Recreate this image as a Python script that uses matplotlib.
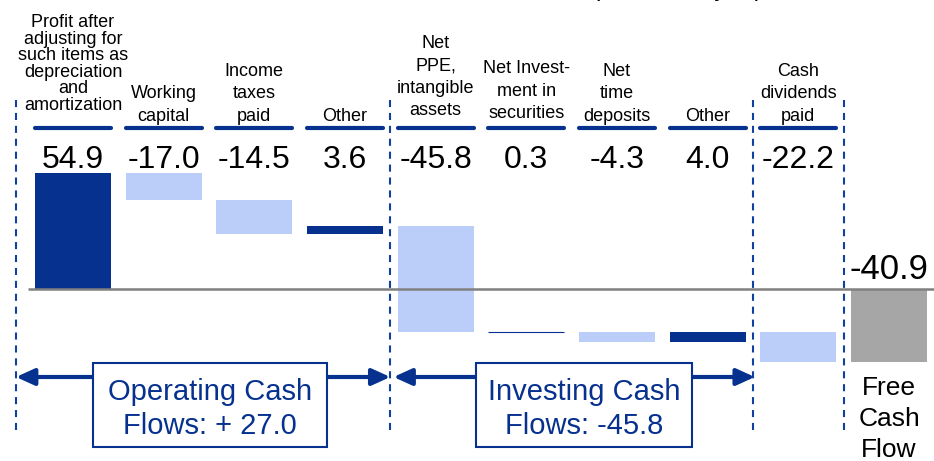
import matplotlib
matplotlib.use("Agg")
import matplotlib.pyplot as plt
from matplotlib.patches import Rectangle

plt.rcParams["font.family"] = ["Liberation Sans", "DejaVu Sans"]

# Cash flow bridge (billions of yen)
categories = [
    "Profit after\nadjusting for\nsuch items as\ndepreciation\nand\namortization",
    "Working\ncapital",
    "Income\ntaxes\npaid",
    "Other",
    "Net\nPPE,\nintangible\nassets",
    "Net Invest-\nment in\nsecurities",
    "Net\ntime\ndeposits",
    "Other",
    "Cash\ndividends\npaid",
]
steps = [54.9, -17.0, -14.5, 3.6, -45.8, 0.3, -4.3, 4.0, -22.2]
free_cash_flow = -40.9
end_label = "Free\nCash\nFlow"
unit_label = "(Billions of yen)"
n_operating = 4
n_investing = 4

DARK = "#06318f"
LIGHT = "#bbcefa"
GRAY = "#a6a6a6"
DASH = "#1040a0"

W, H = 934, 461
X0, DX = 73.0, 90.67   # pixel centre of first bar, bar pitch


def px(x):
    """Pixel column -> bar-index units."""
    return (x - X0) / DX


fig = plt.figure(figsize=(W / 100, H / 100), dpi=100)
xlim = (px(0), px(W))

# bar area (clips the tallest bars top and bottom)
ax = fig.add_axes([0, (H - 361.7) / H, 1, (361.7 - 173) / H])
ax.set_xlim(*xlim)
ax.set_ylim(-31.4, 49.6)
ax.axis("off")

# overlay for labels, arrows and boxes: x in bar units, y in pixels from top
ov = fig.add_axes([0, 0, 1, 1], zorder=3)
ov.set_xlim(*xlim)
ov.set_ylim(H, 0)
ov.axis("off")

width = 0.84
cum = 0.0
for i, v in enumerate(steps):
    ax.bar(i, v, bottom=cum, width=width, color=DARK if v >= 0 else LIGHT,
           linewidth=0 if abs(v) > 1 else 0.8, edgecolor=DARK, zorder=2)
    cum += v
ax.bar(len(steps), free_cash_flow, width=width, color=GRAY, linewidth=0, zorder=2)
ax.hlines(0, -0.5, xlim[1], color="#808080", lw=1.8, zorder=3)

# category headers
label_bottom = [114, 124.5, 124.5, 124.5, 119, 122, 124.5, 124.5, 124.5]
for i, (name, v) in enumerate(zip(categories, steps)):
    ov.plot([i - width / 2, i + width / 2], [128, 128], color=DARK, lw=3,
            solid_capstyle="round")
    ov.text(i, label_bottom[i], name, ha="center", va="bottom", fontsize=13,
            linespacing=0.97 if i == 0 else 1.42)
    ov.text(i, 168, f"{v:.1f}", ha="center", va="baseline", fontsize=23)

n = len(steps)
ov.text(n, 279, f"{free_cash_flow:.1f}", ha="center", va="baseline", fontsize=25)
ov.text(n, 376, end_label, ha="center", va="top", fontsize=19, linespacing=1.37)

# section separators
for b in [px(16), n_operating - 0.5, n_operating + n_investing - 0.5, n - 0.5]:
    ov.vlines(b, 100, 430, colors=DASH, lw=1.5, linestyles=(0, (3.4, 2.8)))

arrow = dict(arrowstyle="<|-|>,head_length=1.1,head_width=0.5", color=DARK,
             lw=3, shrinkA=0, shrinkB=0, mutation_scale=10)
ov.annotate("", xy=(px(16), 377), xytext=(n_operating - 0.5, 377), arrowprops=arrow)
ov.annotate("", xy=(px(393.5), 377), xytext=(n_operating + n_investing - 0.48, 377),
            arrowprops=arrow)

op_total = sum(steps[:n_operating])
inv_total = sum(steps[n_operating:n_operating + n_investing])
boxes = [
    (93, 327, f"Operating Cash\nFlows: + {op_total:.1f}"),
    (476, 692, f"Investing Cash\nFlows: {inv_total:.1f}"),
]
for left, right, text in boxes:
    ov.add_patch(Rectangle((px(left), 363), (right - left) / DX, 84,
                           facecolor="white", edgecolor=DARK, lw=1.5, zorder=4))
    ov.text(px((left + right) / 2), 409, text, ha="center", va="center",
            fontsize=21, color=DARK, linespacing=1.3, zorder=5)

ov.text(px(677), -4, unit_label, ha="center", va="baseline", fontsize=18)

fig.savefig("out.png", dpi=100)
